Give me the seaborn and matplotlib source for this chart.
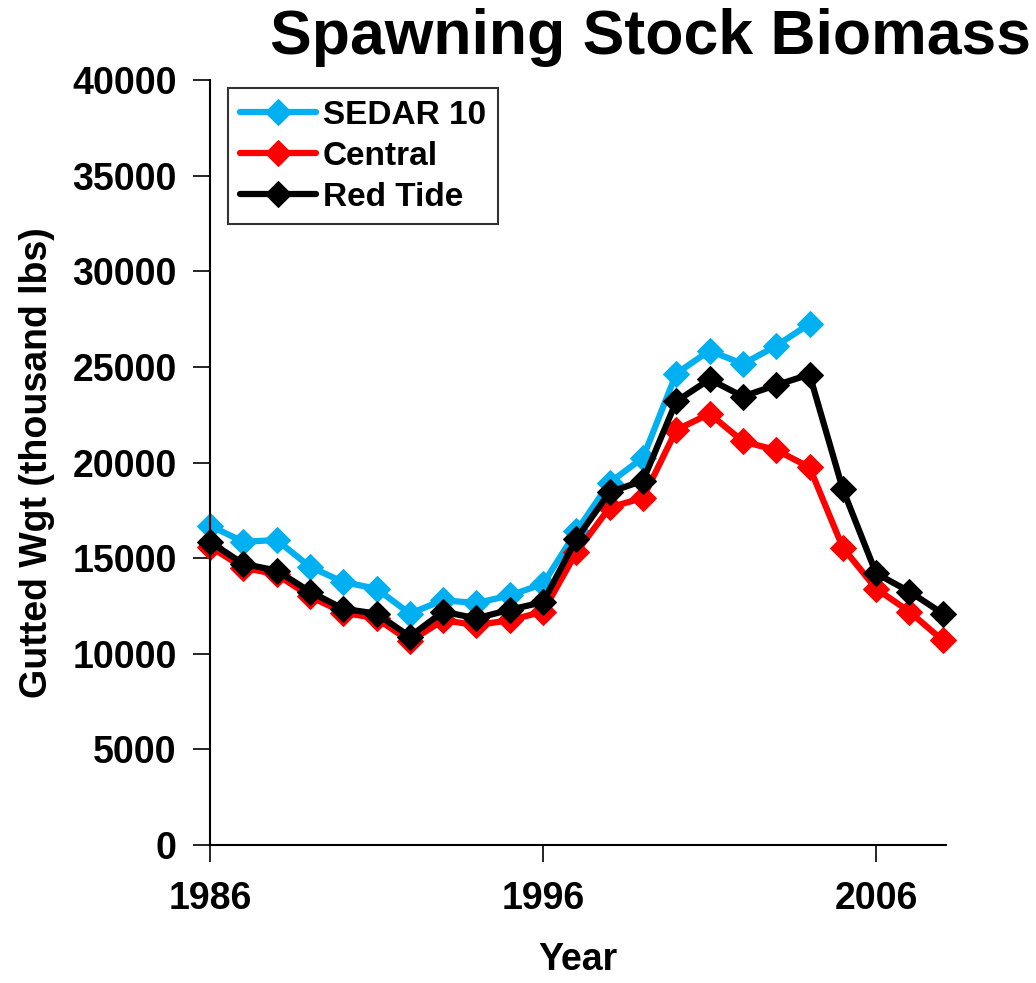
import pandas as pd
import matplotlib.pyplot as plt
import seaborn as sns

# Datos
years = list(range(1986, 2009))
sedar10 = [16700, 15850, 15950, 14550, 13750, 13400, 12100, 12800, 12650, 13050,
           13650, 16400, 18950, 20250, 24650, 25850, 25150, 26100, 27250]
central = [15600, 14500, 14150, 13000, 12150, 11850, 10650, 11750, 11500, 11750,
           12200, 15300, 17650, 18150, 21700, 22550, 21100, 20650, 19750, 15550,
           13400, 12200, 10700]
red_tide = [15850, 14700, 14350, 13250, 12350, 12100, 10900, 12200, 11850, 12300,
            12700, 16000, 18450, 19050, 23200, 24350, 23450, 24050, 24600, 18600,
            14200, 13250, 12100]

series_names = ["SEDAR 10", "Central", "Red Tide"]
series_vals = [sedar10, central, red_tide]
colores = {"SEDAR 10": "#00B0F0", "Central": "#FF0000", "Red Tide": "#000000"}

df = pd.concat([
    pd.DataFrame({"Year": years[:len(v)], "SSB": v, "serie": n})
    for n, v in zip(series_names, series_vals)
])

sns.set_theme(style="ticks")
plt.rcParams['font.family'] = ['Liberation Sans', 'DejaVu Sans']
plt.rcParams['font.weight'] = 'bold'
plt.rcParams['text.color'] = 'black'
plt.rcParams['xtick.color'] = 'black'
plt.rcParams['ytick.color'] = 'black'
plt.rcParams['axes.labelcolor'] = 'black'
plt.rcParams['axes.edgecolor'] = 'black'

fig = plt.figure(figsize=(10.36, 9.83), dpi=100)
ax = fig.add_axes([0.2027, 0.1404, 0.7105, 0.7782])

for n in series_names:
    sns.lineplot(data=df[df["serie"] == n], x="Year", y="SSB", ax=ax,
                 color=colores[n], marker="D", markersize=13, linewidth=4.5,
                 markeredgecolor=colores[n], label=n, clip_on=False)

ax.set_xlim(1986, 2008.1)
ax.set_ylim(0, 40000)
ax.set_xticks([1986, 1996, 2006])
ax.set_yticks(range(0, 40001, 5000))
ax.tick_params(axis="both", labelsize=27, width=1.2, length=12, direction="out")
ax.tick_params(axis="x", pad=14)
ax.tick_params(axis="y", pad=12)
for lab in ax.get_xticklabels() + ax.get_yticklabels():
    lab.set_fontweight("bold")
sns.despine(ax=ax)
for s in ["left", "bottom"]:
    ax.spines[s].set_linewidth(1.5)

ax.set_xlabel("Year", fontsize=27, fontweight="bold")
ax.set_ylabel("Gutted Wgt (thousand lbs)", fontsize=27, fontweight="bold")
ax.xaxis.set_label_coords(0.5, -0.127)
ax.yaxis.set_label_coords(-0.211, 0.5)

leg = ax.legend(loc="upper left", bbox_to_anchor=(0.0245, 0.9895), fontsize=24,
                frameon=True, fancybox=False, edgecolor="black", handlelength=2.3,
                handletextpad=0.2, borderpad=0.35, labelspacing=0.3,
                borderaxespad=0)
leg.get_frame().set_linewidth(1.5)
for t in leg.get_texts():
    t.set_fontweight("bold")

fig.text(0.628, 0.962, "Spawning Stock Biomass", fontsize=45, fontweight="bold",
         ha="center", va="center")

plt.savefig("out.png", dpi=100)
